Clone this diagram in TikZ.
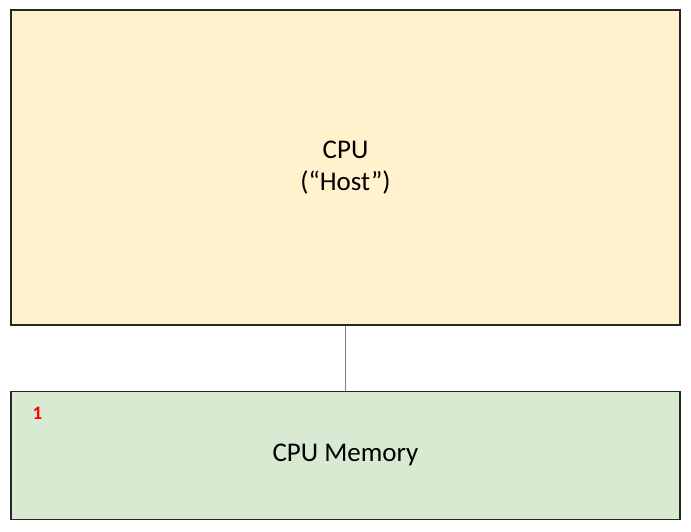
\documentclass[tikz,border=0pt]{standalone}
\usepackage{fontspec}
\setmainfont{Carlito}
\usepackage{tikz}
\usetikzlibrary{positioning}
\definecolor{hostfill}{HTML}{FFF2CC}
\definecolor{memfill}{HTML}{D9EAD3}
\definecolor{linkgray}{HTML}{7F7F7F}
\definecolor{tagred}{HTML}{FF0000}
\tikzstyle{host} = [rectangle, draw=black!85, line width=1.2pt, fill=hostfill, align=center, font=\fontsize{27}{32}\selectfont, minimum width=669pt, minimum height=315pt, inner sep=0pt]
\tikzstyle{mem} = [rectangle, draw=black!85, line width=1.2pt, fill=memfill, align=center, font=\fontsize{27}{32}\selectfont, minimum width=669pt, minimum height=128pt, inner sep=0pt]
\tikzstyle{tag} = [text=tagred, font=\fontsize{19}{19}\selectfont\bfseries, inner sep=0pt]
\tikzstyle{link} = [draw=linkgray, line width=1pt]

\begin{document}
\begin{tikzpicture}[x=1pt,y=1pt]
\useasboundingbox (0,0) rectangle (691,-532);

% boxes
\node[host] (cpu) at (345.5,-167.5) {CPU\\(“Host”)};
\node[mem, below=65pt of cpu] (cpumem) {CPU Memory};
\node[tag, below right=16pt and 22pt of cpumem.north west] (one) {1};

% edges
\path[link] (cpu.south) -- (cpumem.north);

\end{tikzpicture}
\end{document}
